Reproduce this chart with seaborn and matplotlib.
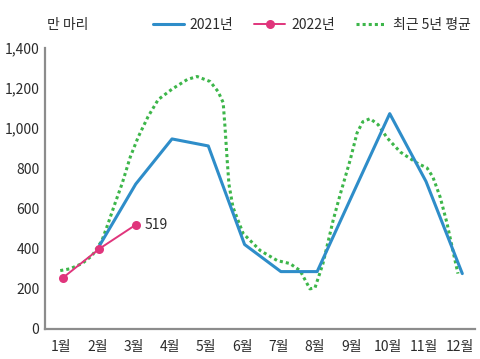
import matplotlib.pyplot as plt
import pandas as pd
import seaborn as sns

# monthly catch, unit: 만 마리
month_labels = [f"{m}월" for m in range(1, 13)]

months_2021 = [2, 3, 4, 5, 6, 7, 8, 9, 10, 11, 12]
values_2021 = [415, 722, 947, 912, 421, 286, 286, 680, 1073, 735, 276]

months_2022 = [1, 2, 3]
values_2022 = [256, 400, 519]

# 5-year average
avg_months = [0.92, 1.19, 1.52, 1.80, 2.07, 2.24, 2.43, 2.63, 2.85, 3.07, 3.34, 3.62,
              4.00, 4.42, 4.69, 5.05, 5.27, 5.41, 5.46, 5.52, 5.57, 5.68, 5.96, 6.43,
              6.90, 7.25, 7.53, 7.80, 7.94, 8.16, 8.44, 8.63, 8.91, 9.10, 9.26, 9.46,
              9.68, 9.93, 10.29, 10.75, 11.03, 11.19, 11.39, 11.58, 11.74, 11.88]
avg_values = [291, 300, 326, 366, 441, 526, 626, 727, 857, 957, 1058, 1143,
              1195, 1243, 1258, 1233, 1183, 1128, 1008, 842, 720, 607, 476, 391,
              341, 326, 291, 200, 205, 326, 541, 667, 842, 977, 1033, 1048,
              1018, 952, 882, 827, 802, 757, 657, 526, 391, 276]

BLUE = "#2e8dc9"
PINK = "#e0357c"
GREEN = "#3db64a"
GREY = "#8c8c8c"
TEXT = "#2b2b2b"
FS = 10

sns.set_theme(style="white")
plt.rcParams["font.family"] = ["Noto Sans CJK KR", "DejaVu Sans"]
plt.rcParams["font.size"] = FS

df21 = pd.DataFrame({"month": months_2021, "value": values_2021})
df22 = pd.DataFrame({"month": months_2022, "value": values_2022})
dfavg = pd.DataFrame({"month": avg_months, "value": avg_values})

fig = plt.figure(figsize=(4.81, 3.59), dpi=100)
ax = fig.add_axes([45 / 481, 30 / 359, 430 / 481, 281 / 359])

sns.lineplot(data=dfavg, x="month", y="value", ax=ax, color=GREEN, linewidth=2.2,
             linestyle=(0, (1, 1)), sort=False, label="최근 5년 평균")
sns.lineplot(data=df21, x="month", y="value", ax=ax, color=BLUE, linewidth=2.2,
             sort=False, label="2021년")
sns.lineplot(data=df22, x="month", y="value", ax=ax, color=PINK, linewidth=1.4,
             marker="o", markersize=6.5, markeredgewidth=0, sort=False, label="2022년")

ax.text(months_2022[-1] + 0.25, values_2022[-1], f"{values_2022[-1]}",
        ha="left", va="center", color=TEXT, fontsize=FS)

ax.set_xlim(0.5, 12.35)
ax.set_ylim(0, 1400)
ax.set_yticks(range(0, 1401, 200))
ax.set_yticklabels([f"{v:,}" for v in range(0, 1401, 200)])
ax.set_xticks([m - 0.06 for m in range(1, 13)])
ax.set_xticklabels(month_labels)
ax.set_xticks([m + 0.46 for m in range(1, 12)], minor=True)
ax.tick_params(axis="x", which="major", length=0, pad=8, colors=TEXT, labelsize=FS)
ax.tick_params(axis="x", which="minor", length=4, width=1.2, direction="in", color=GREY)
ax.tick_params(axis="y", length=5, width=1.2, direction="in", pad=4,
               colors=TEXT, labelsize=FS)
ax.tick_params(axis="y", color=GREY)
ax.set_xlabel("")
ax.set_ylabel("")
sns.despine(ax=ax)
for side in ("left", "bottom"):
    ax.spines[side].set_color(GREY)
    ax.spines[side].set_linewidth(1.6)

fig.text(47 / 481, 1 - 25 / 359, "만 마리", ha="left", va="center", color=TEXT, fontsize=FS)

handles, labels = ax.get_legend_handles_labels()
order = [labels.index(n) for n in ["2021년", "2022년", "최근 5년 평균"]]
ax.legend([handles[i] for i in order], [labels[i] for i in order], ncol=3,
          loc="center", bbox_to_anchor=(0.648, 1 - 25 / 359),
          bbox_transform=fig.transFigure, frameon=False, handlelength=2.2,
          handletextpad=0.45, columnspacing=1.5, fontsize=FS, labelcolor=TEXT)

fig.savefig("out.png", dpi=100)
